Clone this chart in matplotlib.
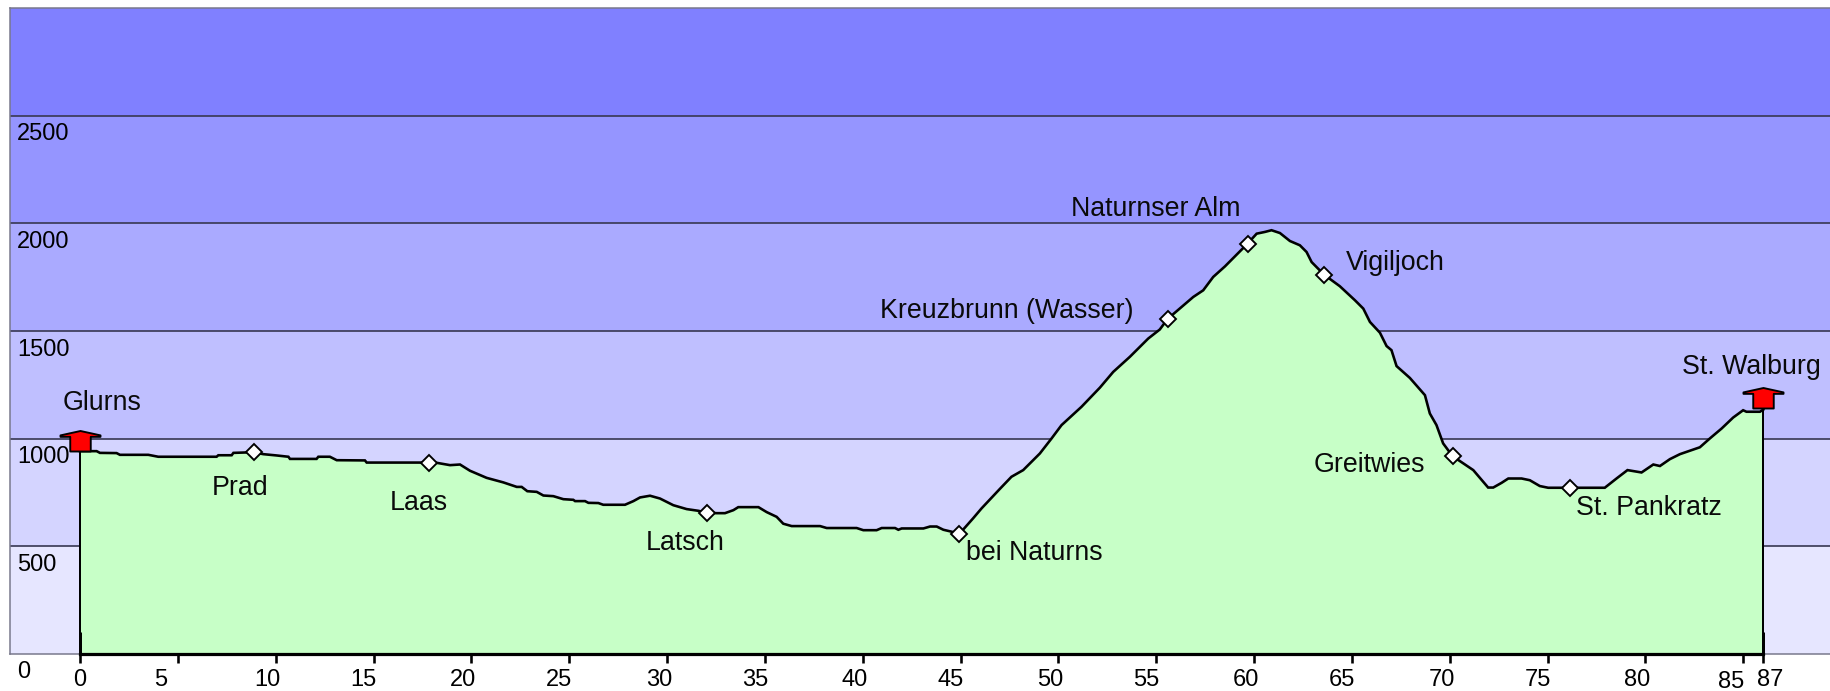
import matplotlib
matplotlib.use("Agg")
import matplotlib.pyplot as plt
from matplotlib.path import Path
from matplotlib.transforms import ScaledTranslation

plt.rcParams['font.family'] = ['Liberation Sans', 'DejaVu Sans']

profile_km = [0, .85, 1.02, 1.87, 2.04, 3.49, 4.0, 6.98, 7.07, 7.75, 7.84, 8.52, 8.91, 9.37, 10.05, 10.65, 10.73,
              12.09, 12.18, 12.77, 13.12, 14.56, 14.65, 17.2, 17.83, 18.22, 18.91, 19.42, 19.93, 20.78, 21.63,
              22.32, 22.57, 22.86, 23.34, 23.68, 24.19, 24.70, 25.21, 25.3, 25.81, 25.98, 26.49, 26.74, 27.85,
              28.28, 28.62, 29.13, 29.64, 30.32, 31.0, 31.6, 32.03, 32.54, 32.96, 33.39, 33.64, 34.67, 35.09,
              35.6, 35.94, 36.37, 37.82, 38.16, 39.69, 40.03, 40.71, 40.97, 41.65, 41.82, 41.99, 43.1, 43.44,
              43.78, 44.12, 44.54, 44.93, 45.64, 46.07, 47.0, 47.6, 48.2, 49.05, 49.65, 50.16, 51.18, 52.12,
              52.8, 53.65, 54.59, 55.18, 55.58, 56.89, 57.4, 57.91, 58.51, 59.67, 60.13, 60.55, 60.89, 61.32,
              61.83, 62.34, 62.68, 62.94, 63.57, 64.38, 65.15, 65.58, 65.92, 66.43, 66.77, 67.02, 67.28, 67.96,
              68.73, 68.98, 69.32, 69.66, 70.14, 70.69, 71.2, 71.96, 72.22, 72.65, 72.99, 73.67, 74.09, 74.6,
              75.03, 76.14, 77.92, 78.52, 79.08, 79.8, 80.4, 80.74, 81.25, 81.76, 82.78, 83.29, 83.89, 84.48,
              84.99, 85.16, 85.85, 86.02]
profile_m = [942, 942, 934, 933, 925, 925, 916, 916, 923, 923, 934, 936, 936, 928, 922, 916, 906,
             906, 916, 916, 900, 899, 889, 889, 889, 888, 877, 880, 851, 818, 797,
             776, 776, 756, 753, 736, 733, 719, 716, 710, 710, 702, 701, 693, 693,
             710, 727, 735, 722, 691, 673, 665, 656, 654, 654, 668, 682, 682, 659,
             637, 605, 594, 594, 585, 585, 575, 575, 585, 585, 577, 583, 583, 592,
             592, 577, 568, 557, 630, 676, 766, 823, 854, 931, 1001, 1063, 1148, 1237,
             1310, 1380, 1465, 1507, 1556, 1658, 1689, 1751, 1800, 1906, 1952, 1960, 1968, 1955,
             1918, 1898, 1867, 1820, 1762, 1708, 1643, 1604, 1542, 1492, 1430, 1411, 1337, 1282,
             1202, 1117, 1063, 978, 919, 885, 854, 773, 773, 795, 815, 815, 807, 780,
             772, 772, 772, 815, 854, 843, 880, 873, 905, 928, 960, 1001, 1047, 1098,
             1132, 1125, 1125, 1135]

band_edges = [0, 500, 1000, 1500, 2000, 2500, 3000]
band_colors = ['#E6E6FF', '#D4D4FF', '#BFBFFF', '#AAAAFF', '#9595FF', '#8080FF']

way_km = [8.91, 17.83, 32.03, 44.93, 55.58, 59.67, 63.57, 70.14, 76.14]
way_m = [936, 889, 656, 557, 1556, 1906, 1762, 919, 772]

end_km = [0, 86.02]
end_m = [942, 1141]

place_names = ['Glurns', 'Prad', 'Laas', 'Latsch', 'bei Naturns', 'Kreuzbrunn (Wasser)', 'Naturnser Alm',
               'Vigiljoch', 'Greitwies', 'St. Pankratz', 'St. Walburg']
place_km = [-0.87, 6.75, 15.84, 28.93, 45.3, 40.88, 50.64, 64.69, 63.06, 76.47, 81.85]
place_m = [1133, 737, 670, 482, 435, 1561, 2033, 1782, 845, 646, 1301]

xtick_pos = [0, 5, 10, 15, 20, 25, 30, 35, 40, 45, 50, 55, 60, 65, 70, 75, 80, 85, 86.02]
xtick_lab = ['0', '5', '10', '15', '20', '25', '30', '35', '40', '45', '50', '55', '60', '65', '70', '75', '80', '85', '87']
xtick_dx = [0, -17, -8, -10, -8, -10, -8, -10, -8, -10, -8, -10, -8, -10, -8, -10, -8, -12, 7]
xtick_dy = [0] * 17 + [-2, 0]

ytick_pos = [0, 500, 1000, 1500, 2000, 2500]

W, H, DPI = 1830, 691, 100
px = 72 / DPI
fig = plt.figure(figsize=(W / DPI, H / DPI), dpi=DPI, facecolor='white')
ax = fig.add_axes([10 / W, (H - 654) / H, 1820 / W, 646 / H])
ax.set_xlim(-3.577, 89.43)
ax.set_ylim(0, 3000)

for lo, hi, c in zip(band_edges[:-1], band_edges[1:], band_colors):
    ax.axhspan(lo, hi, color=c, lw=0, zorder=1)
ax.hlines(band_edges[1:-1], -3.577, 89.43, color='#3A3A55', lw=1.7 * px, zorder=2)

ax.fill_between(profile_km, 0, profile_m, color='#C7FFC7', lw=0, zorder=3)
ax.plot(profile_km, profile_m, color='black', lw=2.6 * px, zorder=4, solid_joinstyle='miter')
ax.vlines(end_km, 0, end_m, color='black', lw=2 * px, zorder=4)
ax.vlines(end_km, 0, 100, color='black', lw=3 * px, zorder=4)
ax.plot(end_km, [0, 0], color='black', lw=3.2 * px, zorder=5, clip_on=False)

ax.plot(way_km, way_m, ls='none', marker='D', ms=11.6 * px, mfc='white', mec='black', mew=1.9 * px, zorder=6)

house = Path([(-10.5, 0), (10.5, 0), (10.5, 15), (20.5, 15), (20.5, 16.5), (0, 21), (-20.5, 16.5), (-20.5, 15),
              (-10.5, 15), (-10.5, 0)], closed=True)
ax.plot(end_km, end_m, ls='none', marker=house, ms=41 * px, mfc='#FF0000', mec='black', mew=1.9 * px,
        zorder=7, clip_on=False)

for name, k, m in zip(place_names, place_km, place_m):
    ax.text(k, m, name, fontsize=19.3, ha='left', va='baseline', color='#0A0A0A', zorder=8)

ax.set_xticks(xtick_pos)
ax.set_xticklabels(xtick_lab)
ax.tick_params(axis='x', length=9 * px, width=2.6 * px, color='black', pad=23.5 * px, labelsize=17, zorder=9)
for lab, dx, dy in zip(ax.get_xticklabels(), xtick_dx, xtick_dy):
    lab.set_va('baseline')
    lab.set_transform(lab.get_transform() + ScaledTranslation(dx * px / 72, dy * px / 72, fig.dpi_scale_trans))

ax.set_yticks(ytick_pos)
ax.set_yticklabels([str(v) for v in ytick_pos])
ax.tick_params(axis='y', length=0, pad=-7 * px, labelsize=17)
for lab in ax.get_yticklabels():
    lab.set_ha('left')
    lab.set_va('baseline')
    lab.set_transform(lab.get_transform() + ScaledTranslation(0, -24.5 * px / 72, fig.dpi_scale_trans))
    lab.set_zorder(9)

for side in ['left', 'top', 'bottom']:
    ax.spines[side].set_color('#77778A')
    ax.spines[side].set_linewidth(1.5 * px)
ax.spines['right'].set_visible(False)

fig.savefig('out.png', dpi=DPI, facecolor='white')
